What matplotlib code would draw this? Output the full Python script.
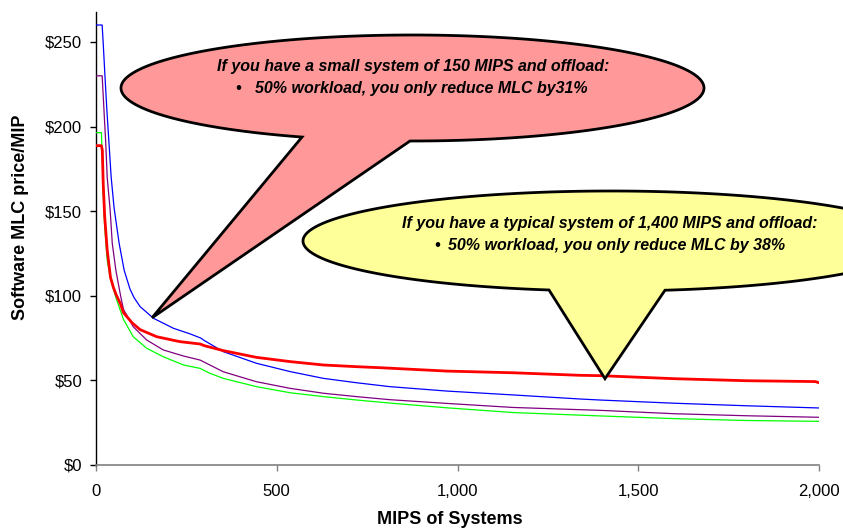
import numpy as np
import matplotlib
matplotlib.use("Agg")
import matplotlib.pyplot as plt
from matplotlib.patches import PathPatch
from matplotlib.path import Path
from matplotlib.ticker import FuncFormatter

plt.rcParams['font.family'] = ['Liberation Sans', 'DejaVu Sans']

# ---------------- data ----------------
blue_x = [0, 17, 20, 25, 30, 36, 42, 50, 64, 78, 94, 105, 122, 159, 214, 260, 290, 300,
          352, 444, 537, 629, 721, 813, 970, 1154, 1339, 1394, 1600, 1800, 2000]
blue_y = [260, 260, 249, 229, 210, 190, 170, 152, 131, 115, 104, 99, 93.6, 86.7, 80.8, 77.5,
          75, 73.5, 67, 60.1, 55.2, 51.2, 48.6, 46.3, 43.7, 41.4, 39, 38.4, 36.5, 35, 33.7]

red_x = [0, 15, 17.5, 20, 24, 31, 40, 48, 55, 68, 76, 100, 122, 168, 232, 288, 300,
         352, 444, 537, 629, 721, 786, 970, 1154, 1339, 1394, 1600, 1800, 1990, 2000]
red_y = [188.7, 188.7, 186, 166, 147, 127, 111, 105, 101, 95, 90, 84, 80, 75.8, 72.9, 71.5, 70.5,
         67.6, 63.6, 61.1, 59.1, 58.1, 57.5, 55.5, 54.5, 53, 52.8, 51, 49.8, 49.3, 48.6]

purple_x = [0, 17, 22, 27, 31, 39, 45, 55, 68, 76, 103, 140, 186, 242, 288, 315,
            352, 444, 537, 629, 721, 813, 970, 1154, 1394, 1600, 1800, 2000]
purple_y = [230, 230, 210, 190, 170, 151, 131, 115, 100, 92, 81.7, 73.9, 68, 64.4, 62, 59.1,
            55.1, 49.2, 45.3, 42.4, 40.4, 38.6, 36.4, 34, 32.3, 30.3, 29.1, 28.2]

green_x = [0, 15, 17.5, 20, 24, 31, 40, 55, 76, 103, 140, 186, 242, 288, 315,
           352, 444, 537, 629, 721, 813, 970, 1154, 1394, 1600, 1800, 2000]
green_y = [196.4, 196.4, 180, 160, 141, 121, 110, 99, 86, 75.8, 69, 64, 59.1, 57.1, 54.2,
           51.2, 46.3, 42.7, 40.4, 38.4, 36.6, 33.8, 31, 29, 27.4, 26.3, 25.8]

y_ticks = [0, 50, 100, 150, 200, 250]
x_ticks = [0, 500, 1000, 1500, 2000]

callout1_lines = ["If you have a small system of 150 MIPS and offload:",
                  "50% workload, you only reduce MLC by31%"]
callout2_lines = ["If you have a typical system of 1,400 MIPS and offload:",
                  "50% workload, you only reduce MLC by 38%"]

# ---------------- figure ----------------
W, H = 843, 531
fig = plt.figure(figsize=(W / 100, H / 100), dpi=100)
ax_l, ax_r, ax_t, ax_b = 96, 819, 12, 465
ax = fig.add_axes([ax_l / W, 1 - ax_b / H, (ax_r - ax_l) / W, (ax_b - ax_t) / H])
YMAX = 267.7
ax.set_xlim(0, 2000)
ax.set_ylim(0, YMAX)

ax.plot(green_x, green_y, color='#00FF00', lw=0.9, zorder=3)
ax.plot(purple_x, purple_y, color='#800080', lw=0.9, zorder=3)
ax.plot(blue_x, blue_y, color='#0000FF', lw=0.9, zorder=3)
ax.plot(red_x, red_y, color='#FF0000', lw=2.0, zorder=4)

for s in ['top', 'right']:
    ax.spines[s].set_visible(False)
ax.spines['left'].set_color('black')
ax.spines['bottom'].set_color('#808080')
ax.spines['left'].set_linewidth(1.0)
ax.spines['bottom'].set_linewidth(1.2)

ax.set_yticks(y_ticks)
ax.yaxis.set_major_formatter(FuncFormatter(lambda v, p: f"${v:.0f}"))
ax.set_xticks(x_ticks)
ax.xaxis.set_major_formatter(FuncFormatter(lambda v, p: f"{v:,.0f}"))
ax.tick_params(axis='y', direction='out', length=4, width=1, color='black', pad=6, labelsize=12)
ax.tick_params(axis='x', direction='out', length=4, width=1, color='#808080', pad=10, labelsize=12)

ax.set_xlabel("MIPS of Systems", fontsize=13, fontweight='bold')
ax.set_ylabel("Software MLC price/MIP", fontsize=13, fontweight='bold')
ax.xaxis.set_label_coords((450 - ax_l) / (ax_r - ax_l), -(519 - ax_b) / (ax_b - ax_t))
ax.yaxis.set_label_coords(-(ax_l - 21) / (ax_r - ax_l), (ax_b - 217) / (ax_b - ax_t))
ax.xaxis.label.set_va('center')
ax.yaxis.label.set_va('center')

# pixel -> data helpers for annotation geometry
sx = (ax_r - ax_l) / 2000.0
sy = (ax_b - ax_t) / YMAX
def X(px):
    return (px - ax_l) / sx
def Y(py):
    return (ax_b - py) / sy


def callout(cx, cy, a, b, bx1, bx2, tip, color):
    # ellipse in data coords, wedge from bottom between bx1 and bx2 to tip
    c1 = np.clip((bx1 - cx) / a, -1, 1)
    c2 = np.clip((bx2 - cx) / a, -1, 1)
    t1 = 2 * np.pi - np.arccos(c1)
    t2 = 2 * np.pi - np.arccos(c2)
    ts = np.linspace(t2, t1 + 2 * np.pi, 400)
    xs = cx + a * np.cos(ts)
    ys = cy + b * np.sin(ts)
    verts = list(zip(xs, ys)) + [tip, (xs[0], ys[0])]
    codes = [Path.MOVETO] + [Path.LINETO] * (len(verts) - 2) + [Path.CLOSEPOLY]
    patch = PathPatch(Path(verts, codes), facecolor=color, edgecolor='black',
                      lw=2.0, joinstyle='miter', clip_on=False, zorder=6)
    ax.add_patch(patch)


# pink callout
callout(X(412.5), Y(88), 291.5 / sx, 53 / sy, X(302), X(410), (155, 87), '#FF9999')
# yellow callout
callout(X(611), Y(241), 308 / sx, 50 / sy, X(549), X(665), (1408, 51), '#FFFF99')

tkw = dict(fontsize=11.5, fontweight='bold', fontstyle='italic', color='black',
           zorder=7, va='center', clip_on=False)
ax.text(X(217), Y(66), callout1_lines[0], ha='left', **tkw)
ax.text(X(238), Y(88), "\u2022", ha='center', **tkw)
ax.text(X(255), Y(88), callout1_lines[1], ha='left', **tkw)

ax.text(X(402), Y(223), callout2_lines[0], ha='left', **tkw)
ax.text(X(437), Y(245), "\u2022", ha='center', **tkw)
ax.text(X(448), Y(245), callout2_lines[1], ha='left', **tkw)

fig.savefig("out.png", dpi=100)
